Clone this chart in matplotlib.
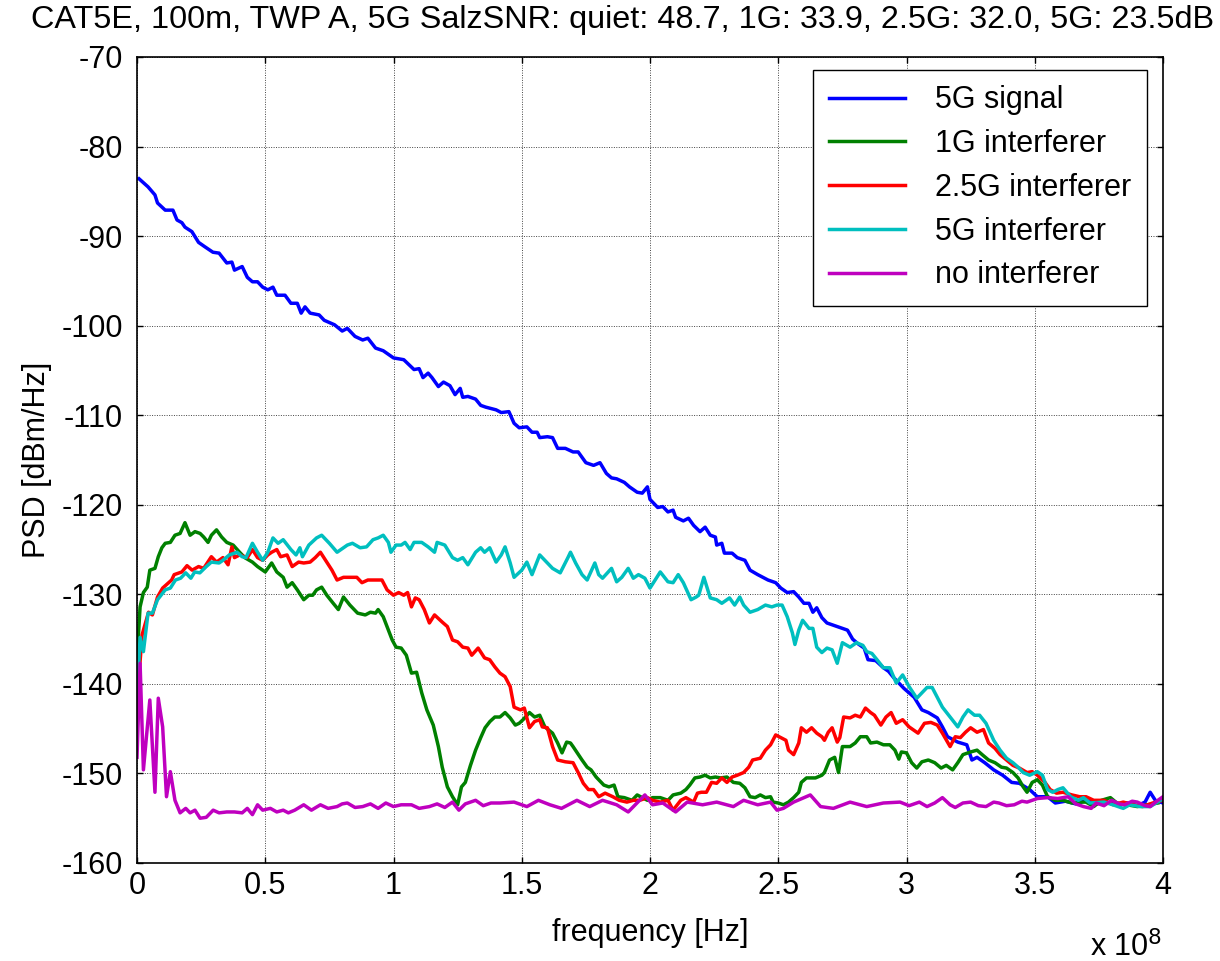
import numpy as np
import matplotlib
matplotlib.use("Agg")
import matplotlib.pyplot as plt

plt.rcParams['font.family'] = ['Liberation Sans', 'DejaVu Sans']

TITLE = "CAT5E, 100m, TWP A, 5G SalzSNR: quiet: 48.7, 1G: 33.9, 2.5G: 32.0, 5G: 23.5dB"
SERIES_NAMES = ["5G signal", "1G interferer", "2.5G interferer", "5G interferer", "no interferer"]
SERIES_COLORS = ["#0000ff", "#008000", "#ff0000", "#00bfbf", "#bf00bf"]
XTICK_LABELS = ["0", "0.5", "1", "1.5", "2", "2.5", "3", "3.5", "4"]
YTICKS = [-160, -150, -140, -130, -120, -110, -100, -90, -80, -70]

# frequency in units of 1e8 Hz, PSD in dBm/Hz
sig5g_f = [0.008, 0.043, 0.07, 0.08, 0.11, 0.14, 0.156, 0.175, 0.187, 0.214, 0.24, 0.265, 0.296, 0.32, 0.35,
           0.37, 0.38, 0.41, 0.43, 0.45, 0.47, 0.49, 0.51, 0.53, 0.545, 0.577, 0.60, 0.625, 0.64, 0.655,
           0.675, 0.71, 0.73, 0.77, 0.80, 0.82, 0.85, 0.88, 0.90, 0.93, 0.96, 0.98, 1.00, 1.04, 1.08,
           1.10, 1.115, 1.135, 1.15, 1.175, 1.195, 1.22, 1.24, 1.26, 1.27, 1.29, 1.32, 1.34, 1.36, 1.40,
           1.42, 1.45, 1.47, 1.49, 1.52, 1.54, 1.56, 1.57, 1.60, 1.62, 1.64, 1.67, 1.70, 1.72, 1.75,
           1.78, 1.805, 1.83, 1.85, 1.87, 1.90, 1.92, 1.95, 1.97, 1.99, 2.00, 2.03, 2.05, 2.07, 2.09,
           2.10, 2.13, 2.15, 2.17, 2.195, 2.215, 2.235, 2.255, 2.26, 2.28, 2.29, 2.32, 2.34, 2.37, 2.39,
           2.42, 2.44, 2.46, 2.49, 2.51, 2.535, 2.56, 2.58, 2.60, 2.62, 2.635, 2.65, 2.67, 2.69, 2.71,
           2.75, 2.77, 2.79, 2.81, 2.835, 2.85, 2.88, 2.91, 2.93, 2.95, 2.99, 3.03, 3.06, 3.085, 3.12,
           3.14, 3.16, 3.20, 3.235, 3.255, 3.275, 3.305, 3.34, 3.375, 3.41, 3.44, 3.48, 3.51, 3.55, 3.58,
           3.62, 3.66, 3.70, 3.74, 3.78, 3.82, 3.86, 3.90, 3.93, 3.95, 3.97, 4.00]
sig5g_db = [-83.6, -84.5, -85.4, -86.3, -87.1, -87.1, -88.2, -88.5, -89.0, -89.5, -90.7, -91.2, -91.8, -91.9, -93.0,
            -92.9, -93.8, -93.4, -94.6, -95.1, -95.1, -95.7, -96.0, -95.7, -96.6, -96.6, -97.5, -97.5, -98.6, -97.9,
            -98.6, -98.8, -99.4, -99.9, -100.6, -100.3, -101.2, -101.6, -101.4, -102.5, -102.8, -103.2, -103.6, -103.8, -104.9,
            -104.8, -105.8, -105.3, -105.8, -106.8, -106.3, -106.7, -107.7, -107.0, -108.0, -107.9, -108.2, -108.9, -109.1, -109.4,
            -109.7, -109.6, -110.9, -111.4, -111.3, -111.9, -111.9, -112.5, -112.4, -112.5, -113.7, -113.7, -114.1, -114.1, -115.3,
            -115.6, -115.3, -116.5, -117.0, -117.1, -117.5, -118.0, -118.6, -118.7, -118.0, -119.4, -120.3, -120.2, -120.8, -120.6,
            -121.4, -121.8, -121.5, -122.3, -123.0, -122.5, -123.4, -123.6, -124.5, -124.3, -125.4, -125.4, -125.9, -126.2, -127.3,
            -127.8, -128.1, -128.4, -128.7, -129.3, -129.8, -129.7, -130.3, -131.0, -131.0, -132.0, -131.5, -132.6, -133.2, -133.4,
            -133.8, -134.0, -135.0, -135.5, -136.0, -137.3, -137.4, -138.2, -138.6, -139.3, -140.5, -141.5, -142.9, -143.2, -143.8,
            -144.8, -145.9, -146.5, -146.8, -148.5, -148.2, -148.8, -149.6, -150.2, -151.0, -151.1, -151.8, -152.6, -152.6, -153.3,
            -153.1, -153.4, -153.0, -153.4, -153.2, -153.5, -153.3, -153.6, -153.2, -152.1, -153.0, -153.3]

int1g_f = [0.0, 0.012, 0.025, 0.04, 0.05, 0.07, 0.083, 0.097, 0.11, 0.13, 0.148, 0.168, 0.187, 0.207, 0.226,
           0.246, 0.26, 0.277, 0.29, 0.31, 0.33, 0.35, 0.375, 0.40, 0.42, 0.45, 0.47, 0.50, 0.525, 0.545,
           0.57, 0.585, 0.605, 0.625, 0.65, 0.67, 0.685, 0.70, 0.72, 0.74, 0.765, 0.785, 0.805, 0.83, 0.86,
           0.89, 0.91, 0.93, 0.94, 0.96, 0.975, 0.995, 1.01, 1.03, 1.05, 1.07, 1.09, 1.11, 1.13, 1.155,
           1.175, 1.19, 1.21, 1.23, 1.25, 1.265, 1.28, 1.30, 1.32, 1.34, 1.357, 1.376, 1.395, 1.415, 1.435,
           1.455, 1.475, 1.49, 1.505, 1.53, 1.55, 1.57, 1.59, 1.62, 1.64, 1.657, 1.675, 1.69, 1.70, 1.735,
           1.755, 1.77, 1.79, 1.82, 1.84, 1.86, 1.875, 1.90, 1.93, 1.95, 1.97, 1.99, 2.01, 2.04, 2.07,
           2.09, 2.12, 2.14, 2.155, 2.175, 2.195, 2.215, 2.235, 2.255, 2.275, 2.30, 2.325, 2.35, 2.37, 2.39,
           2.41, 2.43, 2.45, 2.47, 2.48, 2.50, 2.52, 2.54, 2.56, 2.58, 2.59, 2.61, 2.645, 2.67, 2.68,
           2.70, 2.72, 2.735, 2.75, 2.78, 2.80, 2.82, 2.845, 2.86, 2.885, 2.91, 2.935, 2.955, 2.97, 2.98,
           3.00, 3.02, 3.04, 3.06, 3.085, 3.11, 3.135, 3.155, 3.18, 3.20, 3.22, 3.25, 3.275, 3.295, 3.32,
           3.345, 3.37, 3.39, 3.415, 3.435, 3.455, 3.47, 3.49, 3.51, 3.53, 3.55, 3.58, 3.61, 3.645, 3.67,
           3.70, 3.73, 3.76, 3.795, 3.82, 3.86, 3.90, 3.94, 3.98]
int1g_db = [-137.3, -131.4, -129.8, -129.2, -127.3, -127.1, -125.8, -124.8, -124.3, -124.2, -123.4, -123.2, -122.0, -123.4, -123.0,
            -123.2, -123.6, -124.2, -123.4, -122.8, -123.6, -124.2, -124.5, -125.3, -125.9, -126.4, -126.9, -127.5, -126.5, -127.5,
            -128.1, -129.2, -128.7, -129.5, -130.6, -130.1, -130.1, -129.5, -129.2, -130.1, -131.0, -131.7, -130.3, -131.2, -132.1,
            -132.3, -132.0, -132.1, -131.7, -132.5, -133.6, -135.1, -135.9, -136.0, -136.8, -138.8, -138.7, -141.0, -142.9, -144.6,
            -147.0, -149.3, -151.5, -152.6, -153.5, -151.5, -151.0, -149.1, -147.4, -146.0, -144.9, -144.2, -143.7, -143.7, -143.2,
            -143.8, -144.6, -144.4, -144.0, -143.2, -143.7, -143.5, -144.8, -145.5, -146.6, -147.7, -146.5, -146.6, -147.0, -148.5,
            -149.3, -149.6, -150.4, -151.3, -151.5, -151.3, -152.6, -152.7, -153.0, -152.4, -152.7, -153.0, -152.7, -152.7, -153.0,
            -152.4, -152.2, -151.8, -151.3, -150.5, -150.4, -150.2, -150.5, -150.4, -150.5, -150.4, -151.0, -151.1, -151.6, -152.6,
            -152.7, -152.4, -152.7, -152.6, -153.2, -153.3, -153.5, -153.2, -152.7, -152.1, -151.0, -150.5, -150.5, -150.2, -149.9,
            -148.5, -148.2, -149.9, -147.0, -147.0, -146.6, -145.9, -145.9, -146.6, -146.5, -146.8, -146.8, -147.4, -148.4, -147.6,
            -147.7, -148.8, -149.4, -148.7, -148.5, -148.8, -149.4, -149.1, -149.6, -148.8, -147.9, -147.6, -147.4, -147.9, -148.5,
            -148.8, -149.3, -149.4, -149.9, -150.5, -151.5, -152.1, -151.0, -150.7, -151.3, -152.6, -153.0, -153.0, -153.3, -153.2,
            -153.2, -153.7, -153.0, -152.7, -153.3, -153.5, -153.7, -153.5, -153.3]

int25g_f = [0.0, 0.02, 0.045, 0.06, 0.08, 0.10, 0.135, 0.145, 0.175, 0.195, 0.215, 0.24, 0.26, 0.29, 0.31,
            0.335, 0.355, 0.37, 0.38, 0.40, 0.43, 0.45, 0.47, 0.49, 0.51, 0.525, 0.545, 0.56, 0.585, 0.605,
            0.63, 0.65, 0.675, 0.695, 0.715, 0.74, 0.76, 0.78, 0.805, 0.83, 0.857, 0.877, 0.90, 0.935, 0.955,
            0.975, 1.00, 1.02, 1.04, 1.055, 1.07, 1.085, 1.10, 1.12, 1.14, 1.16, 1.19, 1.21, 1.23, 1.25,
            1.27, 1.29, 1.305, 1.33, 1.355, 1.375, 1.395, 1.415, 1.435, 1.455, 1.47, 1.495, 1.51, 1.53, 1.55,
            1.57, 1.58, 1.60, 1.62, 1.64, 1.67, 1.70, 1.72, 1.74, 1.76, 1.78, 1.80, 1.825, 1.855, 1.88,
            1.91, 1.935, 1.96, 1.99, 2.01, 2.04, 2.07, 2.09, 2.12, 2.14, 2.17, 2.185, 2.20, 2.22, 2.24,
            2.26, 2.28, 2.30, 2.32, 2.34, 2.365, 2.385, 2.40, 2.43, 2.45, 2.47, 2.49, 2.51, 2.53, 2.54,
            2.56, 2.58, 2.59, 2.61, 2.63, 2.65, 2.67, 2.68, 2.695, 2.71, 2.73, 2.74, 2.755, 2.78, 2.80,
            2.82, 2.84, 2.86, 2.875, 2.90, 2.92, 2.94, 2.96, 2.985, 3.01, 3.045, 3.07, 3.095, 3.12, 3.14,
            3.17, 3.19, 3.21, 3.23, 3.25, 3.275, 3.30, 3.32, 3.345, 3.365, 3.39, 3.415, 3.44, 3.47, 3.49,
            3.51, 3.54, 3.56, 3.585, 3.61, 3.645, 3.675, 3.70, 3.73, 3.77, 3.805, 3.845, 3.885, 3.92, 3.96,
            4.00]
int25g_db = [-142.0, -134.5, -132.0, -132.3, -130.3, -129.3, -128.4, -127.8, -127.5, -126.8, -127.3, -126.9, -127.1, -125.8, -126.4,
             -125.9, -126.7, -124.7, -125.9, -125.6, -125.9, -125.0, -125.9, -126.2, -125.6, -125.3, -125.0, -125.8, -125.6, -126.9,
             -126.4, -126.5, -126.4, -125.9, -125.3, -126.4, -127.3, -128.4, -128.1, -128.1, -128.1, -128.7, -128.4, -128.4, -128.4,
             -129.5, -130.1, -129.8, -130.1, -129.8, -131.4, -130.4, -130.6, -131.7, -133.2, -132.3, -133.1, -133.6, -135.1, -135.3,
             -135.9, -136.0, -136.8, -136.0, -137.1, -137.3, -138.1, -138.8, -139.2, -140.3, -142.6, -142.9, -142.7, -144.9, -144.2,
             -144.0, -144.8, -144.9, -147.0, -148.5, -148.7, -148.8, -149.9, -151.1, -151.8, -151.8, -152.6, -152.2, -152.6, -153.0,
             -153.2, -153.0, -153.0, -152.7, -153.0, -153.2, -153.0, -154.1, -153.0, -152.7, -153.2, -152.2, -152.1, -152.1, -151.0,
             -151.1, -150.5, -151.0, -150.4, -150.2, -149.9, -149.3, -148.5, -148.3, -147.4, -146.8, -145.7, -146.0, -146.3, -147.4,
             -147.9, -146.6, -144.9, -145.4, -144.9, -145.5, -145.9, -146.3, -145.4, -144.9, -146.5, -146.0, -143.7, -143.8, -143.5,
             -143.7, -142.7, -143.2, -143.5, -144.6, -143.7, -143.2, -144.4, -144.0, -144.8, -145.5, -144.4, -144.3, -144.6, -145.5,
             -147.0, -145.9, -146.0, -145.4, -144.9, -145.4, -145.1, -146.6, -147.2, -147.9, -148.5, -149.1, -149.4, -149.9, -149.8,
             -150.2, -151.0, -151.8, -152.2, -152.1, -152.4, -152.6, -152.6, -153.0, -153.0, -153.5, -153.2, -153.5, -153.7, -153.3,
             -153.0]

int5g_f = [0.0, 0.012, 0.025, 0.043, 0.06, 0.08, 0.11, 0.13, 0.15, 0.17, 0.19, 0.21, 0.225, 0.245, 0.27,
           0.29, 0.32, 0.335, 0.36, 0.39, 0.41, 0.425, 0.45, 0.47, 0.49, 0.51, 0.53, 0.55, 0.57, 0.60,
           0.62, 0.635, 0.645, 0.67, 0.70, 0.72, 0.75, 0.78, 0.82, 0.84, 0.87, 0.895, 0.92, 0.94, 0.96,
           0.98, 0.99, 1.01, 1.03, 1.045, 1.065, 1.08, 1.11, 1.135, 1.16, 1.17, 1.20, 1.23, 1.25, 1.27,
           1.29, 1.32, 1.34, 1.355, 1.375, 1.40, 1.42, 1.435, 1.455, 1.47, 1.50, 1.52, 1.54, 1.57, 1.60,
           1.62, 1.65, 1.68, 1.69, 1.71, 1.735, 1.755, 1.785, 1.80, 1.815, 1.85, 1.87, 1.89, 1.915, 1.935,
           1.955, 1.98, 2.00, 2.02, 2.04, 2.07, 2.09, 2.11, 2.13, 2.16, 2.18, 2.19, 2.21, 2.235, 2.26,
           2.28, 2.31, 2.33, 2.35, 2.365, 2.39, 2.42, 2.45, 2.475, 2.495, 2.515, 2.535, 2.555, 2.565, 2.58,
           2.595, 2.62, 2.635, 2.65, 2.67, 2.69, 2.71, 2.73, 2.75, 2.78, 2.805, 2.83, 2.845, 2.865, 2.885,
           2.91, 2.935, 2.96, 2.985, 3.01, 3.04, 3.06, 3.08, 3.10, 3.12, 3.14, 3.17, 3.20, 3.22, 3.24,
           3.265, 3.285, 3.31, 3.34, 3.365, 3.39, 3.415, 3.435, 3.455, 3.48, 3.51, 3.53, 3.55, 3.57, 3.59,
           3.61, 3.64, 3.67, 3.69, 3.715, 3.77, 3.805, 3.845, 3.87, 3.91, 3.95, 3.99]
int5g_db = [-141.8, -134.8, -136.4, -132.1, -132.1, -130.6, -129.5, -129.3, -128.4, -128.2, -127.6, -128.2, -127.5, -127.6, -126.9,
            -126.4, -126.5, -126.2, -125.6, -125.3, -125.8, -125.9, -124.3, -125.3, -126.2, -125.3, -123.7, -124.3, -123.9, -125.0,
            -125.6, -124.8, -125.8, -124.5, -123.7, -123.4, -124.3, -125.3, -124.5, -124.3, -124.8, -124.7, -123.9, -123.7, -123.4,
            -124.2, -125.3, -124.5, -124.5, -124.2, -125.0, -124.2, -124.2, -124.7, -125.3, -124.2, -124.5, -125.9, -126.2, -125.9,
            -126.7, -125.3, -124.8, -125.3, -124.8, -126.4, -125.6, -124.7, -126.5, -128.1, -127.3, -126.4, -127.8, -125.6, -126.5,
            -127.1, -127.6, -125.9, -125.3, -126.5, -127.8, -128.4, -126.5, -127.8, -128.2, -127.1, -128.6, -128.1, -127.1, -128.2,
            -127.8, -128.2, -129.3, -128.4, -127.5, -128.6, -128.7, -127.8, -128.7, -130.6, -130.3, -130.1, -128.1, -130.4, -130.6,
            -131.0, -130.4, -131.2, -130.3, -131.2, -132.0, -131.7, -131.2, -131.4, -131.2, -131.2, -132.5, -134.3, -135.6, -134.0,
            -132.9, -133.8, -133.8, -135.9, -136.5, -136.0, -136.2, -137.7, -135.4, -135.9, -135.4, -135.7, -136.4, -136.6, -137.3,
            -138.2, -138.2, -139.9, -139.0, -140.3, -141.6, -141.0, -140.4, -140.4, -141.5, -142.6, -143.7, -144.8, -143.7, -142.9,
            -143.5, -143.5, -144.4, -146.3, -147.4, -148.3, -148.8, -149.3, -149.9, -150.2, -149.8, -150.2, -151.8, -152.1, -151.8,
            -151.6, -152.6, -153.0, -152.7, -153.3, -153.2, -153.5, -153.9, -153.5, -153.7, -153.7, -153.0]

quiet_f = [0.0, 0.012, 0.025, 0.05, 0.07, 0.083, 0.10, 0.115, 0.13, 0.148, 0.168, 0.19, 0.207, 0.226, 0.246,
           0.27, 0.297, 0.32, 0.35, 0.38, 0.41, 0.43, 0.45, 0.47, 0.49, 0.52, 0.545, 0.57, 0.59, 0.615,
           0.65, 0.68, 0.715, 0.745, 0.78, 0.80, 0.82, 0.85, 0.88, 0.91, 0.94, 0.97, 1.00, 1.03, 1.07,
           1.10, 1.14, 1.17, 1.20, 1.23, 1.255, 1.28, 1.32, 1.35, 1.38, 1.415, 1.47, 1.52, 1.565, 1.61,
           1.655, 1.715, 1.765, 1.815, 1.87, 1.915, 1.98, 2.01, 2.05, 2.10, 2.145, 2.205, 2.26, 2.325, 2.365,
           2.42, 2.47, 2.495, 2.52, 2.56, 2.625, 2.665, 2.715, 2.78, 2.845, 2.91, 2.975, 3.01, 3.05, 3.08,
           3.11, 3.14, 3.17, 3.19, 3.22, 3.25, 3.28, 3.31, 3.34, 3.36, 3.39, 3.42, 3.45, 3.47, 3.51,
           3.55, 3.59, 3.63, 3.66, 3.69, 3.72, 3.74, 3.77, 3.80, 3.83, 3.85, 3.88, 3.90, 3.93, 3.95,
           3.98, 4.00]
quiet_db = [-148.2, -137.7, -149.6, -141.8, -152.1, -141.6, -144.8, -152.6, -149.8, -153.0, -154.4, -153.9, -154.4, -154.1, -155.0,
            -154.9, -154.1, -154.4, -154.3, -154.3, -154.4, -153.9, -154.6, -153.5, -154.1, -153.9, -154.3, -154.1, -154.4, -154.1,
            -153.5, -154.1, -153.5, -153.9, -153.7, -153.4, -153.3, -153.8, -153.7, -153.4, -153.9, -153.3, -153.7, -153.5, -153.5,
            -153.9, -153.7, -153.4, -153.8, -153.2, -154.1, -153.4, -153.0, -153.6, -153.3, -153.3, -153.2, -153.7, -153.0, -153.5,
            -153.9, -153.0, -153.7, -153.0, -153.5, -154.3, -152.4, -153.5, -153.3, -154.3, -153.2, -153.5, -153.2, -153.7, -153.0,
            -153.5, -153.2, -154.1, -153.9, -153.2, -152.4, -153.7, -153.9, -153.2, -153.7, -153.3, -153.2, -153.6, -153.2, -153.7,
            -153.3, -152.7, -153.5, -153.8, -153.3, -153.2, -153.6, -153.7, -153.2, -153.3, -153.6, -153.5, -153.1, -153.2, -152.8,
            -152.7, -152.8, -152.6, -153.4, -153.7, -153.9, -153.3, -153.6, -153.0, -153.4, -153.5, -153.1, -153.2, -153.6, -153.7,
            -153.0, -152.6]

W, H, DPI = 1220, 961, 100
fig = plt.figure(figsize=(W / DPI, H / DPI), dpi=DPI, facecolor="white")
ax = fig.add_axes([137 / W, 1 - 863 / H, (1163 - 137) / W, (863 - 57) / H])

series = [(sig5g_f, sig5g_db), (int1g_f, int1g_db), (int25g_f, int25g_db),
          (int5g_f, int5g_db), (quiet_f, quiet_db)]
for (f, db), name, col in zip(series, SERIES_NAMES, SERIES_COLORS):
    ax.plot(np.asarray(f) * 1e8, db, color=col, lw=2.5, label=name, solid_joinstyle="round")

ax.set_xlim(0, 4e8)
ax.set_ylim(-160, -70)
ax.set_xticks(np.arange(len(XTICK_LABELS)) * 0.5e8)
ax.set_xticklabels(XTICK_LABELS)
ax.set_yticks(YTICKS)
ax.set_yticklabels([str(v) for v in YTICKS])

fs = 22
ax.tick_params(direction="in", top=True, right=True, length=4, width=1, labelsize=fs, colors="black")
ax.tick_params(axis="y", pad=10)
ax.tick_params(axis="x", pad=6)
ax.grid(True, color="#444444", linestyle=(0, (1, 1.5)), linewidth=0.7)
for sp in ax.spines.values():
    sp.set_linewidth(1.2)
    sp.set_color("black")

ax.set_xlabel("frequency [Hz]", fontsize=fs, labelpad=12)
ax.set_ylabel("PSD [dBm/Hz]", fontsize=fs, labelpad=7)
fig.text(623 / W, 1 - 20 / H, TITLE, ha="center", va="center", fontsize=23.3)
fig.text(1090 / W, 1 - 947 / H, r"x 10$^{8}$", ha="left", va="center", fontsize=fs)

leg = ax.legend(loc="upper right", bbox_to_anchor=(1147 / W, 1 - 70 / H),
                bbox_transform=fig.transFigure, borderaxespad=0, fontsize=fs,
                fancybox=False, framealpha=1, edgecolor="black", handlelength=2.5,
                handletextpad=1.0, labelspacing=0.45, borderpad=0.5)
leg.get_frame().set_linewidth(1.0)

fig.savefig("out.png", dpi=DPI, facecolor="white")
